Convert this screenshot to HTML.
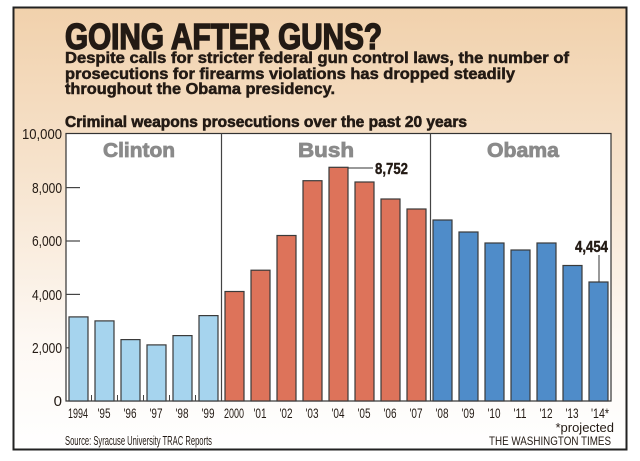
<!DOCTYPE html>
<html><head><meta charset="utf-8"><style>
html,body{margin:0;padding:0;background:#fff;}
svg{display:block;font-family:"Liberation Sans",sans-serif;}
</style></head><body>
<svg width="640" height="461" viewBox="0 0 640 461">
<defs>
<linearGradient id="bg" x1="0" y1="0" x2="0" y2="1">
<stop offset="0" stop-color="#f1d1ac"/>
<stop offset="0.35" stop-color="#f6e2cb"/>
<stop offset="0.75" stop-color="#fdf8f3"/>
<stop offset="1" stop-color="#ffffff"/>
</linearGradient>
</defs>
<rect x="13.5" y="7.5" width="613" height="442" fill="url(#bg)" stroke="#222" stroke-width="2"/>
<text x="65" y="49" font-size="36" font-weight="bold" fill="#231a14" stroke="#231a14" stroke-width="1.6" textLength="317" lengthAdjust="spacingAndGlyphs">GOING AFTER GUNS?</text>
<g font-size="15.5" font-weight="bold" fill="#231a14" stroke="#231a14" stroke-width="0.5">
<text x="65" y="63" textLength="504" lengthAdjust="spacingAndGlyphs">Despite calls for stricter federal gun control laws, the number of</text>
<text x="65" y="79" textLength="450" lengthAdjust="spacingAndGlyphs">prosecutions for firearms violations has dropped steadily</text>
<text x="65" y="94" textLength="270" lengthAdjust="spacingAndGlyphs">throughout the Obama presidency.</text>
</g>
<text x="65" y="127" font-size="16" font-weight="bold" fill="#231a14" stroke="#231a14" stroke-width="0.6" textLength="402" lengthAdjust="spacingAndGlyphs">Criminal weapons prosecutions over the past 20 years</text>
<rect x="66" y="133.5" width="545" height="267.5" fill="#fff" stroke="#333" stroke-width="1.2"/>
<line x1="221.5" y1="133.5" x2="221.5" y2="401" stroke="#444" stroke-width="1.2"/>
<line x1="430.5" y1="133.5" x2="430.5" y2="401" stroke="#444" stroke-width="1.2"/>
<g stroke="#444" stroke-width="1.2">
<line x1="66" y1="187.6" x2="80" y2="187.6"/>
<line x1="66" y1="241" x2="80" y2="241"/>
<line x1="66" y1="294.4" x2="80" y2="294.4"/>
<line x1="66" y1="347.8" x2="80" y2="347.8"/>
</g>
<g font-size="15" fill="#231a14" text-anchor="end">
<text x="62" y="139" textLength="40" lengthAdjust="spacingAndGlyphs">10,000</text>
<text x="62" y="193" textLength="30" lengthAdjust="spacingAndGlyphs">8,000</text>
<text x="62" y="246" textLength="30" lengthAdjust="spacingAndGlyphs">6,000</text>
<text x="62" y="300" textLength="30" lengthAdjust="spacingAndGlyphs">4,000</text>
<text x="62" y="353" textLength="30" lengthAdjust="spacingAndGlyphs">2,000</text>
<text x="62" y="406">0</text>
</g>
<g font-size="20" font-weight="bold" fill="#8a8a8a" stroke="#8a8a8a" stroke-width="0.8" text-anchor="middle">
<text x="139" y="157" textLength="72" lengthAdjust="spacingAndGlyphs">Clinton</text>
<text x="326" y="157" textLength="56" lengthAdjust="spacingAndGlyphs">Bush</text>
<text x="523" y="157" textLength="72" lengthAdjust="spacingAndGlyphs">Obama</text>
</g>
<g stroke="#3a3a3a" stroke-width="1.2">
<g fill="#a6d4ee">
<rect x="69" y="316.9" width="19" height="84.1"/>
<rect x="95" y="320.9" width="19" height="80.1"/>
<rect x="121" y="339.6" width="19" height="61.4"/>
<rect x="147" y="344.9" width="19" height="56.1"/>
<rect x="173" y="335.6" width="19" height="65.4"/>
<rect x="199" y="315.6" width="19" height="85.4"/>
</g>
<g fill="#dd735a">
<rect x="225" y="291.5" width="19" height="109.5"/>
<rect x="251" y="270.2" width="19" height="130.8"/>
<rect x="277" y="235.5" width="19" height="165.5"/>
<rect x="303" y="180.7" width="19" height="220.3"/>
<rect x="329" y="167.3" width="19" height="233.7"/>
<rect x="355" y="182" width="19" height="219"/>
<rect x="381" y="199" width="19" height="202"/>
<rect x="407" y="209" width="19" height="192"/>
</g>
<g fill="#4f8cc9">
<rect x="433" y="220" width="19" height="181"/>
<rect x="459" y="232" width="19" height="169"/>
<rect x="485" y="243" width="19" height="158"/>
<rect x="511" y="250" width="19" height="151"/>
<rect x="537" y="243" width="19" height="158"/>
<rect x="563" y="265.5" width="19" height="135.5"/>
<rect x="589" y="282" width="19" height="119"/>
</g>
</g>
<g stroke="#444" stroke-width="1">
<line x1="91.5" y1="395" x2="91.5" y2="401"/><line x1="117.5" y1="395" x2="117.5" y2="401"/>
<line x1="143.5" y1="395" x2="143.5" y2="401"/><line x1="169.5" y1="395" x2="169.5" y2="401"/>
<line x1="195.5" y1="395" x2="195.5" y2="401"/>
</g>
<line x1="348" y1="168" x2="373" y2="168" stroke="#333" stroke-width="1"/>
<text x="375" y="174" font-size="16" font-weight="bold" fill="#231a14" stroke="#231a14" stroke-width="0.4" textLength="33" lengthAdjust="spacingAndGlyphs">8,752</text>
<line x1="599" y1="255" x2="599" y2="282" stroke="#333" stroke-width="1"/>
<text x="575" y="252" font-size="16" font-weight="bold" fill="#231a14" stroke="#231a14" stroke-width="0.4" textLength="33" lengthAdjust="spacingAndGlyphs">4,454</text>
<g font-size="14" fill="#231a14" text-anchor="middle">
<text x="78" y="418" textLength="20" lengthAdjust="spacingAndGlyphs">1994</text>
<text x="104" y="418" textLength="13" lengthAdjust="spacingAndGlyphs">'95</text><text x="130" y="418" textLength="13" lengthAdjust="spacingAndGlyphs">'96</text><text x="156" y="418" textLength="13" lengthAdjust="spacingAndGlyphs">'97</text>
<text x="182" y="418" textLength="13" lengthAdjust="spacingAndGlyphs">'98</text><text x="208" y="418" textLength="13" lengthAdjust="spacingAndGlyphs">'99</text>
<text x="234" y="418" textLength="20" lengthAdjust="spacingAndGlyphs">2000</text>
<text x="260" y="418" textLength="13" lengthAdjust="spacingAndGlyphs">'01</text><text x="286" y="418" textLength="13" lengthAdjust="spacingAndGlyphs">'02</text><text x="312" y="418" textLength="13" lengthAdjust="spacingAndGlyphs">'03</text>
<text x="338" y="418" textLength="13" lengthAdjust="spacingAndGlyphs">'04</text><text x="364" y="418" textLength="13" lengthAdjust="spacingAndGlyphs">'05</text><text x="390" y="418" textLength="13" lengthAdjust="spacingAndGlyphs">'06</text>
<text x="416" y="418" textLength="13" lengthAdjust="spacingAndGlyphs">'07</text><text x="442" y="418" textLength="13" lengthAdjust="spacingAndGlyphs">'08</text><text x="468" y="418" textLength="13" lengthAdjust="spacingAndGlyphs">'09</text>
<text x="494" y="418" textLength="13" lengthAdjust="spacingAndGlyphs">'10</text><text x="520" y="418" textLength="13" lengthAdjust="spacingAndGlyphs">'11</text><text x="546" y="418" textLength="13" lengthAdjust="spacingAndGlyphs">'12</text>
<text x="572" y="418" textLength="13" lengthAdjust="spacingAndGlyphs">'13</text><text x="600" y="418" textLength="18" lengthAdjust="spacingAndGlyphs">'14*</text>
</g>
<text x="614" y="432" font-size="13" fill="#231a14" text-anchor="end">*projected</text>
<text x="65" y="445" font-size="12.5" fill="#231a14" textLength="147" lengthAdjust="spacingAndGlyphs">Source: Syracuse University TRAC Reports</text>
<text x="611" y="445" font-size="12" fill="#231a14" text-anchor="end" textLength="122" lengthAdjust="spacingAndGlyphs">THE WASHINGTON TIMES</text>
</svg>
</body></html>
